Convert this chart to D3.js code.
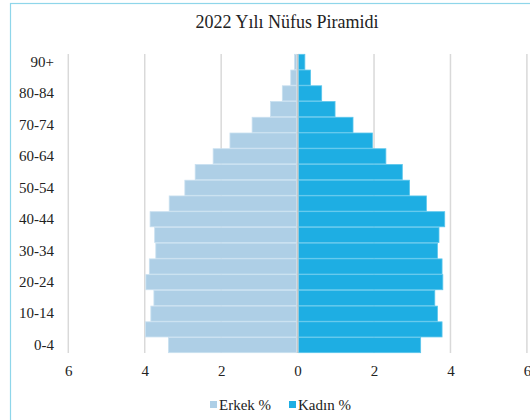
<!DOCTYPE html>
<html>
<head>
<meta charset="utf-8">
<script src="https://cdn.jsdelivr.net/npm/d3@7"></script>
<style>
  html, body { margin: 0; padding: 0; background: #fff; }
  svg { display: block; }
  svg text { font-family: 'Liberation Serif', 'DejaVu Serif', serif !important; fill: #222; }
</style>
</head>
<body>
<svg id="chart" width="530" height="420"></svg>
<script>
const ageGroups = ["0-4","5-9","10-14","15-19","20-24","25-29","30-34","35-39","40-44","45-49","50-54","55-59","60-64","65-69","70-74","75-79","80-84","85-89","90+"];
const erkek = [3.38,3.98,3.84,3.76,3.97,3.88,3.71,3.74,3.86,3.36,2.95,2.68,2.21,1.77,1.19,0.71,0.40,0.18,0.08];
const kadin = [3.22,3.78,3.66,3.59,3.80,3.78,3.66,3.70,3.85,3.37,2.93,2.74,2.31,1.96,1.45,0.98,0.63,0.34,0.19];
const xTicks = [-6,-4,-2,0,2,4,6];
const shownLabels = ["0-4","10-14","20-24","30-34","40-44","50-54","60-64","70-74","80-84","90+"];
const seriesNames = ["Erkek %","Kadın %"];
const title = "2022 Yılı Nüfus Piramidi";

const colors = {erkek: "#aecfe6", kadin: "#1eaee3"};
const svg = d3.select("#chart");
const serif = "'Liberation Serif', 'DejaVu Serif', serif";

// frame
svg.append("rect").attr("x", 10.5).attr("y", 3.5).attr("width", 560).attr("height", 460)
  .attr("fill", "none").attr("stroke", "#8fd6ea").attr("stroke-width", 1.2);

const x = d3.scaleLinear().domain([-6, 6]).range([68.3, 526.9]);
const y = d3.scaleBand().domain(ageGroups.slice().reverse()).range([54, 353]).paddingInner(0.04).paddingOuter(0.02);

const plotTop = 54, plotBottom = 353;

// title
svg.append("text").attr("x", 287).attr("y", 28).attr("text-anchor", "middle")
  .attr("font-family", serif).style("font-size", "18px").text(title);

// gridlines
svg.append("g").selectAll("line").data(xTicks.filter(d => d !== 0)).join("line")
  .attr("x1", d => x(d)).attr("x2", d => x(d))
  .attr("y1", plotTop).attr("y2", plotBottom)
  .attr("stroke", "#d9d9d9").attr("stroke-width", 1.5);

const data = ageGroups.map((g, i) => ({g, m: erkek[i], f: kadin[i]}));

// bars
svg.append("g").selectAll("rect").data(data).join("rect")
  .attr("x", d => x(-d.m)).attr("width", d => x(0) - x(-d.m) - 1)
  .attr("y", d => y(d.g)).attr("height", y.bandwidth())
  .attr("fill", colors.erkek).attr("stroke", "#c9e0f0").attr("stroke-width", 0.8);

svg.append("g").selectAll("rect").data(data).join("rect")
  .attr("x", x(0) + 1).attr("width", d => x(d.f) - x(0) - 1)
  .attr("y", d => y(d.g)).attr("height", y.bandwidth())
  .attr("fill", colors.kadin).attr("stroke", "#5cc6ec").attr("stroke-width", 0.8);

// zero axis line
svg.append("line").attr("x1", x(0)).attr("x2", x(0)).attr("y1", plotTop).attr("y2", plotBottom)
  .attr("stroke", "#c8c8c8").attr("stroke-width", 1.5);

// y labels
const yAxis = d3.axisLeft(y).tickSize(0).tickPadding(0).tickValues(shownLabels);
const gy = svg.append("g").attr("transform", "translate(54,0)").call(yAxis)
  .attr("font-family", serif).attr("font-size", 15);
gy.select(".domain").remove();
gy.selectAll("text").attr("fill", "#222");

// x labels
const xAxis = d3.axisBottom(x).tickValues(xTicks).tickSize(0).tickPadding(0).tickFormat(d => Math.abs(d));
const gx = svg.append("g").attr("transform", "translate(0,365)").call(xAxis)
  .attr("font-family", serif).attr("font-size", 15);
gx.select(".domain").remove();
gx.selectAll("text").attr("fill", "#222");

// legend
const legend = svg.append("g").attr("font-family", serif);
const items = [{name: seriesNames[0], c: colors.erkek, x: 210}, {name: seriesNames[1], c: colors.kadin, x: 289}];
items.forEach(it => {
  legend.append("rect").attr("x", it.x).attr("y", 401).attr("width", 7).attr("height", 7).attr("fill", it.c);
  legend.append("text").attr("x", it.x + 9).attr("y", 410).style("font-size", "15px").text(it.name);
});
</script>
</body>
</html>
